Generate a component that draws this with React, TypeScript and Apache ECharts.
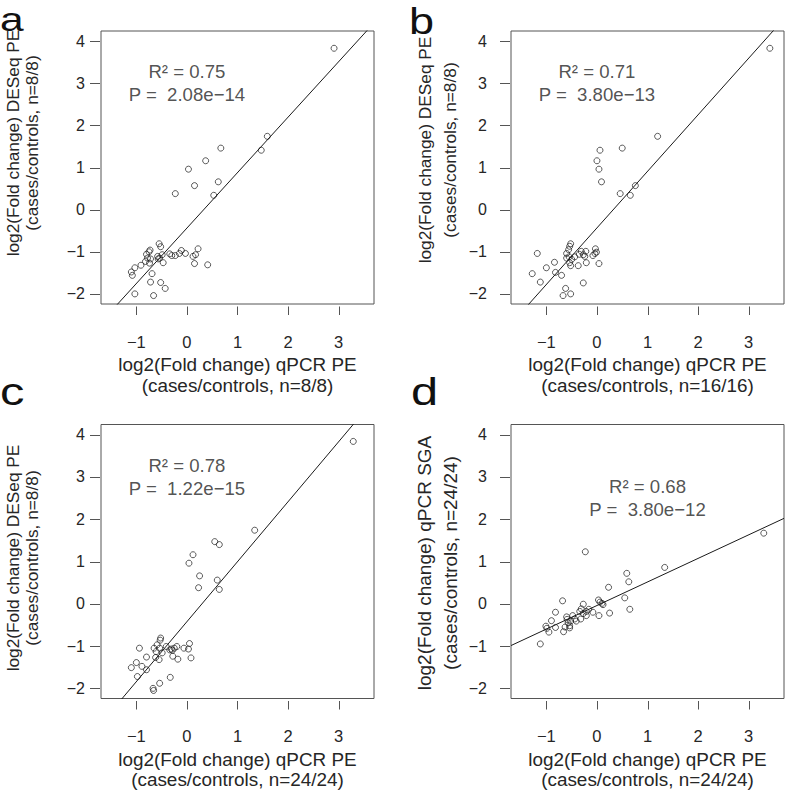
import React, { useEffect, useRef } from "react";
import * as echarts from "echarts";

// ---------- data ----------
const X_TICKS = [-1, 0, 1, 2, 3];
const Y_TICKS = [-2, -1, 0, 1, 2, 3, 4];
const X_RANGE = [-1.7, 3.7];
const Y_RANGE = [-2.24, 4.24];

const pointsA = [
  [2.91, 3.83], [1.59, 1.74], [1.47, 1.41], [0.67, 1.46], [0.37, 1.16], [0.03, 0.96], [0.62, 0.66],
  [0.15, 0.57], [0.53, 0.34], [-0.23, 0.38], [-0.55, -0.81], [-0.52, -0.88], [-0.73, -0.96],
  [-0.75, -1.0], [-0.8, -1.06], [-0.78, -1.15], [-0.72, -1.17], [-0.82, -1.23], [-0.74, -1.27],
  [-0.91, -1.32], [-1.03, -1.38], [-1.1, -1.48], [-1.08, -1.56], [-0.58, -1.11], [-0.54, -1.15],
  [-0.57, -1.17], [-0.49, -1.07], [-0.47, -1.26], [-0.34, -1.05], [-0.3, -1.09], [-0.23, -1.09],
  [-0.15, -1.04], [-0.11, -0.97], [-0.03, -1.04], [0.12, -1.11], [0.17, -1.07], [0.22, -0.93],
  [0.15, -1.28], [0.41, -1.31], [-0.69, -1.52], [-0.72, -1.72], [-0.52, -1.73], [-0.43, -1.87],
  [-1.03, -2.0], [-0.66, -2.04],
];
const pointsB = [
  [3.42, 3.83], [1.2, 1.74], [0.5, 1.46], [0.06, 1.41], [0.0, 1.16], [0.04, 0.96], [0.09, 0.66],
  [0.76, 0.57], [0.46, 0.38], [0.66, 0.34], [-0.52, -0.81], [-0.54, -0.87], [-0.56, -0.95],
  [-0.6, -1.04], [-1.18, -1.04], [-0.55, -1.12], [-0.5, -1.18], [-0.54, -1.26], [-0.52, -1.33],
  [-0.44, -1.12], [-0.35, -1.06], [-0.31, -0.99], [-0.22, -0.99], [-0.24, -1.11], [-0.21, -1.26],
  [-0.37, -1.33], [-0.03, -0.93], [-0.01, -1.01], [-0.04, -1.04], [-0.08, -1.09], [0.04, -1.28],
  [-0.84, -1.25], [-1.0, -1.38], [-0.82, -1.49], [-0.7, -1.56], [-1.28, -1.52], [-1.12, -1.72],
  [-0.62, -1.87], [-0.67, -2.04], [-0.52, -2.0], [-0.27, -1.74], [-0.27, -1.07], [-0.6, -1.15],
];
const pointsC = [
  [3.29, 3.84], [1.34, 1.74], [0.55, 1.47], [0.64, 1.4], [0.12, 1.16], [0.04, 0.96], [0.25, 0.66],
  [0.6, 0.56], [0.23, 0.38], [0.64, 0.34], [-0.52, -0.81], [-0.53, -0.86], [-0.59, -0.97],
  [-0.65, -1.05], [-0.94, -1.05], [-0.61, -1.13], [-0.49, -1.16], [-0.62, -1.27], [-0.55, -1.32],
  [-0.8, -1.26], [-1.0, -1.39], [-0.89, -1.48], [-1.1, -1.51], [-0.8, -1.56], [-0.98, -1.72],
  [-0.41, -1.01], [-0.34, -1.09], [-0.29, -1.1], [-0.25, -1.05], [-0.2, -1.01], [-0.28, -1.24],
  [-0.18, -1.31], [-0.06, -1.05], [0.03, -1.07], [0.05, -0.94], [0.08, -1.28], [-0.33, -1.74],
  [-0.54, -1.88], [-0.67, -2.0], [-0.66, -2.05], [-0.31, -1.07], [-0.54, -1.05],
];
const pointsD = [
  [3.3, 1.67], [1.34, 0.86], [-0.23, 1.23], [0.59, 0.72], [0.63, 0.52], [0.23, 0.39], [0.55, 0.14],
  [0.65, -0.13], [0.25, -0.22], [-0.68, 0.07], [0.03, 0.09], [0.06, 0.04], [0.1, 0.01], [0.12, -0.02],
  [0.04, -0.28], [-0.27, -0.01], [-0.31, -0.12], [-0.34, -0.18], [-0.21, -0.18], [-0.16, -0.13],
  [-0.08, -0.2], [-0.21, -0.28], [-0.32, -0.36], [-0.41, -0.41], [-0.48, -0.28], [-0.6, -0.31],
  [-0.82, -0.2], [-0.9, -0.4], [-1.01, -0.53], [-0.99, -0.58], [-0.95, -0.67], [-0.82, -0.56],
  [-0.66, -0.66], [-0.63, -0.55], [-0.57, -0.45], [-0.54, -0.57], [-0.59, -0.37], [-0.52, -0.41],
  [-1.12, -0.95], [-0.54, -0.52], [-0.27, -0.23], [-0.44, -0.36],
];

const fitA = [-0.437, 1.316]; // intercept, slope
const fitB = [-0.434, 1.342];
const fitC = [-0.422, 1.418];
const fitD = [-0.041, 0.557];

const statsA = ["R² = 0.75", "P =  2.08e−14"];
const statsB = ["R² = 0.71", "P =  3.80e−13"];
const statsC = ["R² = 0.78", "P =  1.22e−15"];
const statsD = ["R² = 0.68", "P =  3.80e−12"];
const statAtA = [0, 3];
const statAtB = [0, 3];
const statAtC = [0, 3];
const statAtD = [1, 2.5];

const xTitleA = ["log2(Fold change) qPCR PE", "(cases/controls, n=8/8)"];
const xTitleB = ["log2(Fold change) qPCR PE", "(cases/controls, n=16/16)"];
const xTitleC = ["log2(Fold change) qPCR PE", "(cases/controls, n=24/24)"];
const xTitleD = ["log2(Fold change) qPCR PE", "(cases/controls, n=24/24)"];
const yTitleA = ["log2(Fold change) DESeq PE", "(cases/controls, n=8/8)"];
const yTitleB = ["log2(Fold change) DESeq PE", "(cases/controls, n=8/8)"];
const yTitleC = ["log2(Fold change) DESeq PE", "(cases/controls, n=8/8)"];
const yTitleD = ["log2(Fold change) qPCR SGA", "(cases/controls, n=24/24)"];
const letters = ["a", "b", "c", "d"];

// ---------- layout / style ----------
const FONT = "'Liberation Sans', Arial, Helvetica, sans-serif";
const INK = "#262626";
const FRAME = "#555555";
const X_TICK = [2.5, 11]; // tick start / end below the box (px)
const Y_TICK = [1, 11]; // tick start / end left of the box (px)

const layout = [
  { left: 101, top: 31, width: 273, height: 273, letterX: 0, letterY: 19.2, letterS: 34, yTX: [13, 32], yTY: 143, yTS: 17.3, yLM: 14 },
  { left: 511, top: 31, width: 273, height: 273, letterX: 409, letterY: 21.5, letterS: 36, yTX: [425, 450], yTY: 150, yTS: 17.3, yLM: 22 },
  { left: 101, top: 424.5, width: 273, height: 274, letterX: 0, letterY: 391.5, letterS: 39, yTX: [13, 32], yTY: 558, yTS: 17.3, yLM: 14 },
  { left: 511, top: 424.5, width: 273, height: 274, letterX: 411, letterY: 391.5, letterS: 39, yTX: [424.5, 450], yTY: 563, yTS: 19, yLM: 22 },
];

const panelData = [
  { points: pointsA, fit: fitA, stats: statsA, statAt: statAtA, xTitle: xTitleA, yTitle: yTitleA },
  { points: pointsB, fit: fitB, stats: statsB, statAt: statAtB, xTitle: xTitleB, yTitle: yTitleB },
  { points: pointsC, fit: fitC, stats: statsC, statAt: statAtC, xTitle: xTitleC, yTitle: yTitleC },
  { points: pointsD, fit: fitD, stats: statsD, statAt: statAtD, xTitle: xTitleD, yTitle: yTitleD },
];

const minus = (v: number) => String(v).replace("-", "−");

function buildOption() {
  const grid: any[] = [];
  const xAxis: any[] = [];
  const yAxis: any[] = [];
  const series: any[] = [];
  const graphic: any[] = [];

  panelData.forEach((p, i) => {
    const L = layout[i];
    grid.push({
      left: L.left, top: L.top, width: L.width, height: L.height,
      show: true, borderColor: FRAME, borderWidth: 1, backgroundColor: "transparent",
    });
    xAxis.push({
      type: "value", gridIndex: i, min: X_RANGE[0], max: X_RANGE[1], offset: 2,
      axisLine: { show: false, onZero: false },
      splitLine: { show: false },
      axisTick: { show: false },
      axisLabel: { show: true, customValues: X_TICKS, formatter: minus, fontSize: 16.5, color: INK, fontFamily: FONT, margin: 27 },
    });
    yAxis.push({
      type: "value", gridIndex: i, min: Y_RANGE[0], max: Y_RANGE[1], offset: 2,
      axisLine: { show: false, onZero: false },
      splitLine: { show: false },
      axisTick: { show: false },
      axisLabel: { show: true, customValues: Y_TICKS, formatter: minus, fontSize: 16, color: INK, fontFamily: FONT, margin: L.yLM },
    });

    const f = (x: number) => p.fit[0] + p.fit[1] * x;
    series.push({
      type: "line", xAxisIndex: i, yAxisIndex: i, clip: true, silent: true,
      showSymbol: false, symbol: "none",
      data: [[X_RANGE[0], f(X_RANGE[0])], [X_RANGE[1], f(X_RANGE[1])]],
      lineStyle: { color: "#1a1a1a", width: 1 },
    });
    series.push({
      type: "scatter", xAxisIndex: i, yAxisIndex: i, symbol: "circle", symbolSize: 6, silent: true,
      data: p.points,
      itemStyle: { color: "rgba(0,0,0,0)", borderColor: "#1a1a1a", borderWidth: 0.9 },
    });
    series.push({
      type: "scatter", xAxisIndex: i, yAxisIndex: i, symbolSize: 1, silent: true, z: 5,
      data: [p.statAt],
      itemStyle: { color: "rgba(0,0,0,0)" },
      label: {
        show: true, position: "inside", formatter: p.stats.join("\n"),
        fontSize: 18.6, lineHeight: 23, color: INK, fontFamily: FONT, align: "center",
      },
    });

    const cx = L.left + L.width / 2;
    const bottom = L.top + L.height;
    graphic.push({
      id: `xt1-${i}`, type: "text", x: cx, y: bottom + 60.5, silent: true,
      style: { text: p.xTitle[0], fontSize: 18.9, fill: INK, fontFamily: FONT, align: "center", verticalAlign: "middle" },
    });
    graphic.push({
      id: `xt2-${i}`, type: "text", x: cx, y: bottom + 81, silent: true,
      style: { text: p.xTitle[1], fontSize: 18.9, fill: INK, fontFamily: FONT, align: "center", verticalAlign: "middle" },
    });
    graphic.push({
      id: `yt1-${i}`, type: "text", x: L.yTX[0], y: L.yTY, rotation: Math.PI / 2, silent: true,
      style: { text: p.yTitle[0], fontSize: L.yTS, fill: INK, fontFamily: FONT, align: "center", verticalAlign: "middle" },
    });
    graphic.push({
      id: `yt2-${i}`, type: "text", x: L.yTX[1], y: L.yTY, rotation: Math.PI / 2, silent: true,
      style: { text: p.yTitle[1], fontSize: L.yTS, fill: INK, fontFamily: FONT, align: "center", verticalAlign: "middle" },
    });
    graphic.push({
      id: `letter-${i}`, type: "text", x: L.letterX, y: L.letterY, scaleX: 1.25, silent: true,
      style: { text: letters[i], fontSize: L.letterS, fill: "#111", fontFamily: FONT, align: "left", verticalAlign: "middle" },
    });
  });

  return { animation: false, backgroundColor: "#ffffff", grid, xAxis, yAxis, series, graphic };
}

// tick marks, positioned through each panel's own axis scales
function buildTicks(chart: any) {
  const ticks: any[] = [];
  panelData.forEach((_p, i) => {
    const finder = { xAxisIndex: i, yAxisIndex: i };
    X_TICKS.forEach((v, k) => {
      const pt = chart.convertToPixel(finder, [v, Y_RANGE[0]]);
      if (!pt) return;
      const x = Math.round(pt[0]) + 0.5;
      ticks.push({
        id: `xtick-${i}-${k}`, type: "line", silent: true, z: 10,
        shape: { x1: x, y1: pt[1] + X_TICK[0], x2: x, y2: pt[1] + X_TICK[1] },
        style: { stroke: FRAME, lineWidth: 1 },
      });
    });
    Y_TICKS.forEach((v, k) => {
      const pt = chart.convertToPixel(finder, [X_RANGE[0], v]);
      if (!pt) return;
      const y = Math.round(pt[1]) + 0.5;
      ticks.push({
        id: `ytick-${i}-${k}`, type: "line", silent: true, z: 10,
        shape: { x1: pt[0] - Y_TICK[0], y1: y, x2: pt[0] - Y_TICK[1], y2: y },
        style: { stroke: FRAME, lineWidth: 1 },
      });
    });
  });
  return ticks;
}

export default function App() {
  const ref = useRef<HTMLDivElement>(null);
  useEffect(() => {
    if (!ref.current) return;
    const chart = echarts.init(ref.current, undefined, { renderer: "svg" });
    const option = buildOption();
    chart.setOption(option as any);
    const ticks = buildTicks(chart);
    chart.setOption({ graphic: [...option.graphic, ...ticks] } as any);
    return () => chart.dispose();
  }, []);
  return (
    <div
      ref={ref}
      style={{ position: "absolute", left: 0, top: 0, width: 787, height: 791, background: "#fff" }}
    />
  );
}
